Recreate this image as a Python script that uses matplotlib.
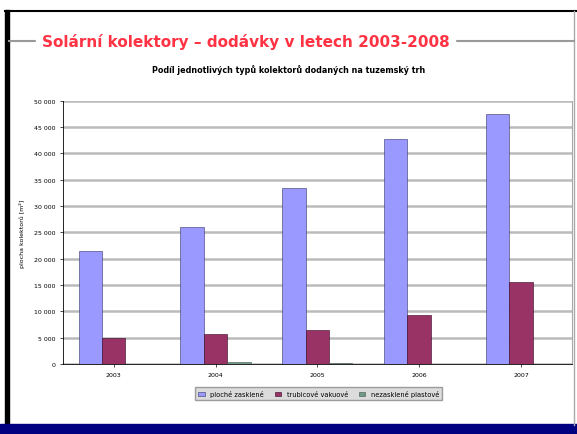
import matplotlib.pyplot as plt
import numpy as np
from matplotlib.patches import Rectangle
from matplotlib.lines import Line2D

years = ["2003", "2004", "2005", "2006", "2007"]
ploche = [21500, 26000, 33400, 42800, 47500]
trubicove = [5000, 5700, 6500, 9300, 15600]
nezasklene = [0, 300, 250, 0, 0]
series_names = ["ploché zasklené", "trubicové vakuové", "nezasklené plastové"]
title = "Solární kolektory – dodávky v letech 2003-2008"
subtitle = "Podíl jednotlivých typů kolektorů dodaných na tuzemský trh"

fig = plt.figure(figsize=(5.77, 4.35), dpi=100)
fig.patch.set_facecolor("white")

# slide frame: black left + top edge, grey right edge, navy band at bottom
fig.add_artist(Rectangle((0.009, 0.02), 0.007, 0.955, transform=fig.transFigure, color="black"))
fig.add_artist(Line2D([0.009, 1], [0.973, 0.973], transform=fig.transFigure, color="black", lw=1.5))
fig.add_artist(Line2D([0.995, 0.995], [0.02, 0.973], transform=fig.transFigure, color="#AAAAAA", lw=1))
fig.add_artist(Rectangle((0, 0), 1, 0.022, transform=fig.transFigure, color="#000080"))
fig.add_artist(Line2D([0.016, 0.995], [0.903, 0.903], transform=fig.transFigure, color="#999999", lw=1.5))
fig.text(0.072, 0.903, title, color="#FF3344", fontsize=11, fontweight="bold",
         va="center", ha="left", backgroundcolor="white")
fig.text(0.5, 0.84, subtitle, fontsize=5.8, fontweight="bold", ha="center", va="center")

ax = fig.add_axes([0.109, 0.161, 0.882, 0.605])
x = np.arange(len(years))
w = 0.23
ax.bar(x - w, ploche, w, color="#9999FF", edgecolor="#333366", lw=0.4, label=series_names[0], zorder=3)
ax.bar(x, trubicove, w, color="#993366", edgecolor="#330022", lw=0.4, label=series_names[1], zorder=3)
ax.bar(x + w, nezasklene, w, color="#6E9988", edgecolor="#445544", lw=0.4, label=series_names[2], zorder=3)

ax.set_xlim(-0.5, len(years) - 0.5)
ax.set_ylim(0, 50000)
ax.set_yticks(np.arange(0, 50001, 5000))
ax.set_yticklabels([f"{v:,}".replace(",", " ") for v in range(0, 50001, 5000)], fontsize=4.5)
ax.set_xticks(x)
ax.set_xticklabels(years, fontsize=4.5)
ax.tick_params(length=2, width=0.5)
ax.yaxis.grid(True, color="#BBBBBB", lw=1.8, zorder=0)
ax.set_axisbelow(True)
ax.spines["top"].set_visible(False)
ax.spines["right"].set_color("#AAAAAA")
ax.spines["left"].set_linewidth(0.6)
ax.spines["bottom"].set_linewidth(0.6)
ax.set_ylabel("plocha kolektorů [m²]", fontsize=4.5, labelpad=6)

leg = fig.legend(loc="center", bbox_to_anchor=(0.552, 0.092), ncol=3, fontsize=4.8,
                 frameon=True, fancybox=False, handlelength=1, columnspacing=1.6,
                 borderpad=0.45)
leg.get_frame().set_facecolor("#D4D4D4")
leg.get_frame().set_edgecolor("#888888")

fig.savefig("out.png", dpi=100)
